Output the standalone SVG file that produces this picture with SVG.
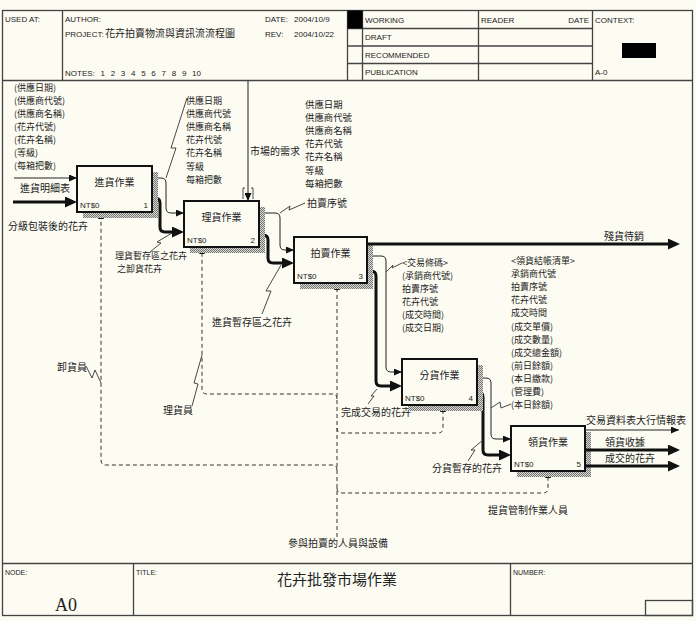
<svg xmlns="http://www.w3.org/2000/svg" width="696" height="621" viewBox="0 0 696 621">
<style>
.bg{fill:#fdfcf3}
.frame{fill:none;stroke:#444;stroke-width:1.3}
.hdr{font-family:'Liberation Sans',Arial,'Noto Sans CJK TC',sans-serif;font-size:8px;fill:#222}
.lbl{font-family:'Noto Sans CJK TC','Noto Sans CJK SC',sans-serif;font-size:10px;fill:#222}
.lst{font-family:'Noto Sans CJK TC','Noto Sans CJK SC',sans-serif;font-size:9px;fill:#222}
.box{fill:#fdfcf3;stroke:#111;stroke-width:2}
.shadow{fill:url(#hatch)}
.bt{font-family:'Noto Sans CJK TC','Noto Sans CJK SC',sans-serif;font-size:10px;fill:#222;text-anchor:middle}
.nt{font-family:'Liberation Sans',Arial,sans-serif;font-size:8px;fill:#222}
.thin{fill:none;stroke:#222;stroke-width:1;marker-end:url(#ah)}
.thick{fill:none;stroke:#111;stroke-width:3;marker-end:url(#ahb)}
.dasha{fill:none;stroke:#333;stroke-width:1;stroke-dasharray:4,3;marker-end:url(#ahd)}
.lead{fill:none;stroke:#333;stroke-width:0.9}
</style>
<defs>
<pattern id="hatch" width="2" height="2" patternUnits="userSpaceOnUse">
<rect width="2" height="2" fill="#d8d8d0"/>
<rect width="1" height="1" fill="#777"/>
<rect x="1" y="1" width="1" height="1" fill="#777"/>
</pattern>
<marker id="ah" markerUnits="userSpaceOnUse" markerWidth="8" markerHeight="7" refX="8" refY="3.5" orient="auto">
<path d="M0,0 L8,3.5 L0,7 z" fill="#111"/>
</marker>
<marker id="ahb" markerUnits="userSpaceOnUse" markerWidth="12" markerHeight="11" refX="8" refY="5.5" orient="auto">
<path d="M0,0 L12,5.5 L0,11 z" fill="#111"/>
</marker>
<marker id="ahd" markerUnits="userSpaceOnUse" markerWidth="7" markerHeight="6" refX="7" refY="3" orient="auto">
<path d="M0,0 L7,3 L0,6 z" fill="#111"/>
</marker>
</defs>
<rect class="bg" x="0" y="0" width="696" height="621"/>

<g id="header">
<rect class="frame" x="2.5" y="10.5" width="690" height="605"/>
<line class="frame" x1="2.5" y1="80.5" x2="692.5" y2="80.5"/>
<line class="frame" x1="62.5" y1="10.5" x2="62.5" y2="80.5"/>
<line class="frame" x1="347.5" y1="10.5" x2="347.5" y2="80.5"/>
<line class="frame" x1="362.5" y1="10.5" x2="362.5" y2="80.5"/>
<line class="frame" x1="478.5" y1="10.5" x2="478.5" y2="80.5"/>
<line class="frame" x1="592.5" y1="10.5" x2="592.5" y2="80.5"/>
<line class="frame" x1="347.5" y1="28.5" x2="592.5" y2="28.5"/>
<line class="frame" x1="347.5" y1="46" x2="592.5" y2="46"/>
<line class="frame" x1="347.5" y1="63.5" x2="592.5" y2="63.5"/>
<rect x="347.5" y="10.5" width="15" height="18" fill="#000"/>
<rect x="622" y="43" width="34" height="15" fill="#000"/>
<text class="hdr" x="5" y="22">USED AT:</text>
<text class="hdr" x="65" y="22">AUTHOR:</text>
<text class="hdr" x="65" y="37">PROJECT: <tspan x="105" style="font-family:'Noto Sans CJK TC','Noto Sans CJK SC',sans-serif;font-size:10px">花卉拍賣物流與資訊流流程圖</tspan></text>
<text class="hdr" x="65" y="76" style="word-spacing:3.5px">NOTES: 1 2 3 4 5 6 7 8 9 10</text>
<text class="hdr" x="265" y="22">DATE:</text>
<text class="hdr" x="294" y="22">2004/10/9</text>
<text class="hdr" x="265" y="37">REV:</text>
<text class="hdr" x="294" y="37">2004/10/22</text>
<text class="hdr" x="365" y="23">WORKING</text>
<text class="hdr" x="365" y="40">DRAFT</text>
<text class="hdr" x="365" y="58">RECOMMENDED</text>
<text class="hdr" x="365" y="75">PUBLICATION</text>
<text class="hdr" x="481" y="23">READER</text>
<text class="hdr" x="589" y="23" text-anchor="end">DATE</text>
<text class="hdr" x="595" y="23">CONTEXT:</text>
<text class="hdr" x="595" y="75">A-0</text>
</g>

<g id="footer">
<line class="frame" x1="2.5" y1="563.5" x2="692.5" y2="563.5"/>
<line class="frame" x1="133.5" y1="563.5" x2="133.5" y2="615.5"/>
<line class="frame" x1="510.5" y1="563.5" x2="510.5" y2="615.5"/>
<rect class="frame" x="645.5" y="600.5" width="47" height="15"/>
<text class="hdr" x="5" y="575" style="font-size:7px">NODE:</text>
<text class="hdr" x="136" y="575" style="font-size:7px">TITLE:</text>
<text class="hdr" x="513" y="575" style="font-size:7px">NUMBER:</text>
<text x="55" y="611" style="font-family:'Liberation Serif','Times New Roman',serif;font-size:18px;fill:#222">A0</text>
<text x="337" y="585" text-anchor="middle" style="font-family:'Noto Sans CJK TC','Noto Sans CJK SC',sans-serif;font-size:15px;fill:#222">花卉批發市場作業</text>
</g>

<g id="connectors">
<path class="thin" d="M14,178 H77"/>
<path class="thick" d="M13,202 H73"/>
<path class="thin" d="M152,178 H161 Q166,178 166,183 V208 Q166,213 171,213 H184"/>
<path class="thick" d="M152,198 H155 Q160,198 160,203 V227 Q160,232 165,232 H180"/>
<path class="thin" d="M248,81 V201"/>
<path class="lead" d="M245,188 H243 V199 M251,188 H253 V199"/>
<path class="thin" d="M259,213 H275 Q280,213 280,218 V245 Q280,250 285,250 H294"/>
<path class="thick" d="M259,235 H263 Q268,235 268,240 V258 Q268,263 273,263 H290"/>
<path class="thin" d="M367,256 H381 Q386,256 386,261 V367 Q386,372 391,372 H402"/>
<path class="thick" d="M367,271 H371 Q376,271 376,276 V381 Q376,386 381,386 H398"/>
<path class="thin" d="M477,378 H486 Q491,378 491,383 V434 Q491,439 496,439 H511"/>
<path class="thick" d="M477,392 H478 Q483,392 483,397 V450 Q483,455 488,455 H507"/>
<path class="dasha" d="M337,537 V283"/>
<path class="dasha" d="M337,470 Q337,465 332,465 H106 Q101,465 101,460 V212"/>
<path class="dasha" d="M337,399 Q337,394 332,394 H207 Q202,394 202,389 V247"/>
<path class="dasha" d="M337,428 Q337,433 342,433 H438 Q443,433 443,428 V405"/>
<path class="dasha" d="M337,488 Q337,493 342,493 H543 Q548,493 548,488 V471"/>
<path class="lead" d="M166,178 L176,148 L171,148 L187,98"/>
<path class="lead" d="M150,252 L161,243 L157,242 L172,233"/>
<path class="lead" d="M280,213 L290,206 L289,210 L305,203"/>
<path class="lead" d="M262,314 L271,291 L266,291 L281,265"/>
<path class="lead" d="M192,406 L198,384 L194,383 L202,355"/>
<path class="lead" d="M86,366 L92,378 L95,370 L101,383"/>
<path class="lead" d="M386,272 L393,265 L392,268 L402,263"/>
<path class="lead" d="M491,408 L500,402 L501,408 L511,404"/>
<path class="lead" d="M368,404 L374,396 L371,396 L377,389"/>
<path class="lead" d="M468,461 L475,450 L471,450 L483,440"/>
</g>

<g id="labels">
<text class="lst" y="90.5"><tspan x="14">(供應日期)</tspan><tspan x="14" dy="13.1">(供應商代號)</tspan><tspan x="14" dy="13.1">(供應商名稱)</tspan><tspan x="14" dy="13.1">(花卉代號)</tspan><tspan x="14" dy="13.1">(花卉名稱)</tspan><tspan x="14" dy="13.1">(等級)</tspan><tspan x="14" dy="13.1">(每箱把數)</tspan></text>
<text class="lbl" x="20" y="192">進貨明細表</text>
<text class="lbl" x="8" y="230">分級包裝後的花卉</text>
<text class="lst" y="104"><tspan x="186">供應日期</tspan><tspan x="186" dy="13.1">供應商代號</tspan><tspan x="186" dy="13.1">供應商名稱</tspan><tspan x="186" dy="13.1">花卉代號</tspan><tspan x="186" dy="13.1">花卉名稱</tspan><tspan x="186" dy="13.1">等級</tspan><tspan x="186" dy="13.1">每箱把數</tspan></text>
<text class="lbl" x="250" y="155">市場的需求</text>
<text class="lst" y="108" style="font-size:9.4px"><tspan x="305">供應日期</tspan><tspan x="305" dy="13.1">供應商代號</tspan><tspan x="305" dy="13.1">供應商名稱</tspan><tspan x="305" dy="13.1">花卉代號</tspan><tspan x="305" dy="13.1">花卉名稱</tspan><tspan x="305" dy="13.1">等級</tspan><tspan x="305" dy="13.1">每箱把數</tspan></text>
<text class="lbl" x="307" y="207">拍賣序號</text>
<text class="lst" x="115" y="259">理貨暫存區之花卉</text>
<text class="lst" x="117" y="272">之卸貨花卉</text>
<text class="lbl" x="212" y="326">進貨暫存區之花卉</text>
<text class="lbl" x="57" y="371">卸貨員</text>
<text class="lbl" x="163" y="414">理貨員</text>
<text class="lst" y="265.5"><tspan x="402">&lt;交易條碼&gt;</tspan><tspan x="402" dy="13.1">(承銷商代號)</tspan><tspan x="402" dy="13.1">拍賣序號</tspan><tspan x="402" dy="13.1">花卉代號</tspan><tspan x="402" dy="13.1">(成交時間)</tspan><tspan x="402" dy="13.1">(成交日期)</tspan></text>
<text class="lst" y="264"><tspan x="511">&lt;領貨結帳清單&gt;</tspan><tspan x="511" dy="13.1">承銷商代號</tspan><tspan x="511" dy="13.1">拍賣序號</tspan><tspan x="511" dy="13.1">花卉代號</tspan><tspan x="511" dy="13.1">成交時間</tspan><tspan x="511" dy="13.1">(成交單價)</tspan><tspan x="511" dy="13.1">(成交數量)</tspan><tspan x="511" dy="13.1">(成交總金額)</tspan><tspan x="511" dy="13.1">(前日餘額)</tspan><tspan x="511" dy="13.1">(本日繳款)</tspan><tspan x="511" dy="13.1">(管理費)</tspan><tspan x="511" dy="13.1">(本日餘額)</tspan></text>
<text class="lbl" x="604" y="240">殘貨待銷</text>
<text class="lbl" x="341" y="416">完成交易的花卉</text>
<text class="lbl" x="432" y="472">分貨暫存的花卉</text>
<text class="lbl" x="586" y="424">交易資料表大行情報表</text>
<text class="lbl" x="605" y="446">領貨收據</text>
<text class="lbl" x="605" y="462">成交的花卉</text>
<text class="lbl" x="488" y="514">提貨管制作業人員</text>
<text class="lbl" x="288" y="547">參與拍賣的人員與設備</text>
</g>

<g id="box1">
<rect class="shadow" x="83" y="172" width="75" height="46"/>
<rect class="box" x="77" y="166" width="75" height="46"/>
<text class="bt" x="114.5" y="186">進貨作業</text>
<text class="nt" x="80" y="208">NT$0</text>
<text class="nt" x="148" y="208" text-anchor="end">1</text>
</g>
<g id="box2">
<rect class="shadow" x="190" y="207" width="75" height="46"/>
<rect class="box" x="184" y="201" width="75" height="46"/>
<text class="bt" x="221.5" y="221">理貨作業</text>
<text class="nt" x="187" y="243">NT$0</text>
<text class="nt" x="255" y="243" text-anchor="end">2</text>
</g>
<g id="box3">
<rect class="shadow" x="300" y="243" width="73" height="46"/>
<rect class="box" x="294" y="237" width="73" height="46"/>
<text class="bt" x="330.5" y="257">拍賣作業</text>
<text class="nt" x="297" y="279">NT$0</text>
<text class="nt" x="363" y="279" text-anchor="end">3</text>
</g>
<g id="box4">
<rect class="shadow" x="408" y="365" width="75" height="46"/>
<rect class="box" x="402" y="359" width="75" height="46"/>
<text class="bt" x="439.5" y="379">分貨作業</text>
<text class="nt" x="405" y="401">NT$0</text>
<text class="nt" x="473" y="401" text-anchor="end">4</text>
</g>
<g id="box5">
<rect class="shadow" x="517" y="432" width="74" height="45"/>
<rect class="box" x="511" y="426" width="74" height="45"/>
<text class="bt" x="548" y="446">領貨作業</text>
<text class="nt" x="514" y="467">NT$0</text>
<text class="nt" x="581" y="467" text-anchor="end">5</text>
</g>
<g id="outputs">
<path class="thick" d="M367,244 H676"/>
<path class="thin" d="M585,430 H679"/>
<path class="thick" d="M585,450 H676"/>
<path class="thick" d="M585,466 H676"/>
</g>
</svg>
